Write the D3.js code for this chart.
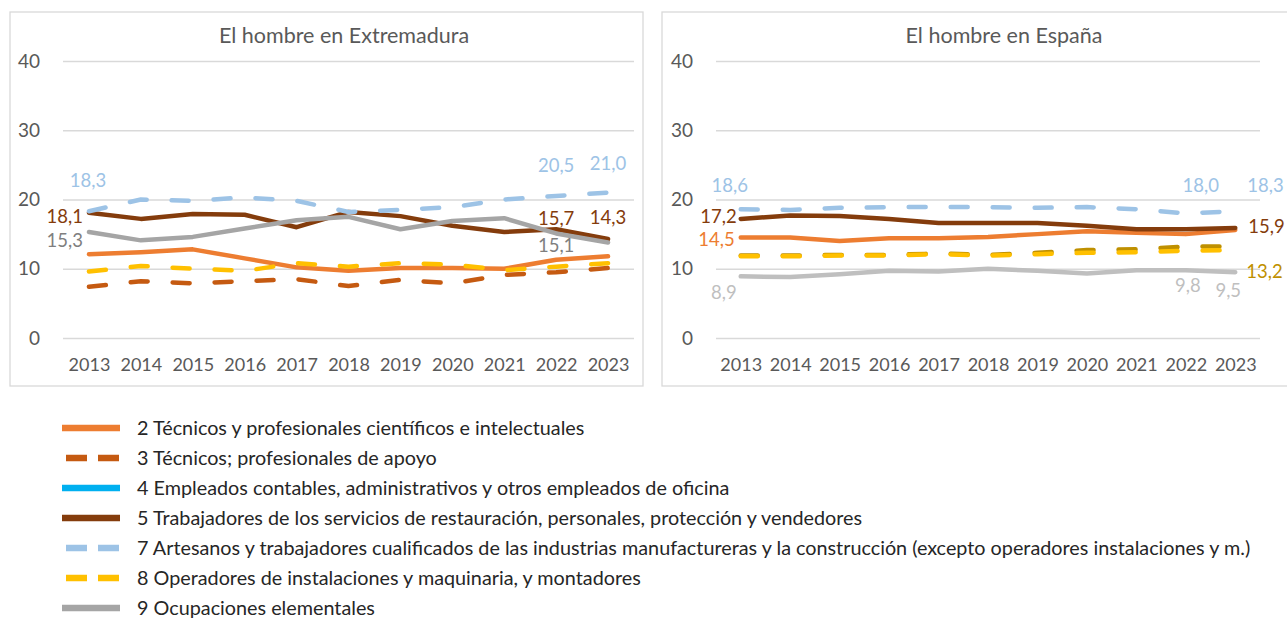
<!DOCTYPE html>
<html><head><meta charset="utf-8">
<script src="https://cdn.jsdelivr.net/npm/d3@7"></script>
<style>
html,body{margin:0;padding:0;background:#fff;}
svg{display:block;font-family:Lato, "Open Sans", sans-serif;}
</style></head>
<body><svg id="c" width="1287" height="619"></svg>
<script>
const years = ["2013","2014","2015","2016","2017","2018","2019","2020","2021","2022","2023"];
const yTicks = [0,10,20,30,40];
const seriesNames = [
  "2 Técnicos y profesionales científicos e intelectuales",
  "3 Técnicos; profesionales de apoyo",
  "4 Empleados contables, administrativos y otros empleados de oficina",
  "5 Trabajadores de los servicios de restauración, personales, protección y vendedores",
  "7 Artesanos y trabajadores cualificados de las industrias manufactureras y la construcción (excepto operadores instalaciones y m.)",
  "8 Operadores de instalaciones y maquinaria, y montadores",
  "9 Ocupaciones elementales"
];
const panelTitles = ["El hombre en Extremadura","El hombre en España"];

// Extremadura
const ext2 = [12.1,12.4,12.8,11.5,10.2,9.7,10.1,10.1,10.0,11.3,11.8];
const ext3 = [7.4,8.2,7.9,8.2,8.5,7.5,8.4,7.9,9.1,9.5,10.1];
const ext4 = [];
const ext5 = [18.1,17.2,17.9,17.8,16.0,18.2,17.6,16.2,15.3,15.7,14.3];
const ext7 = [18.3,20.0,19.8,20.3,19.8,18.2,18.5,18.9,20.0,20.5,21.0];
const ext8 = [9.6,10.4,10.0,9.7,10.8,10.3,10.8,10.6,9.8,10.3,10.8];
const ext9 = [15.3,14.1,14.6,15.8,17.0,17.5,15.7,16.9,17.3,15.1,13.8];
// España
const esp2 = [14.5,14.5,14.0,14.4,14.4,14.6,15.0,15.4,15.2,15.0,15.6];
const esp3 = [11.9,11.9,12.0,12.0,12.2,12.0,12.3,12.7,12.8,13.2,13.2];
const esp4 = [];
const esp5 = [17.2,17.7,17.6,17.2,16.6,16.6,16.6,16.2,15.7,15.7,15.9];
const esp7 = [18.6,18.5,18.8,18.9,18.9,18.9,18.8,18.9,18.6,18.0,18.3];
const esp8 = [11.8,11.8,11.9,11.9,12.1,11.9,12.1,12.3,12.4,12.6,12.7];
const esp9 = [8.9,8.8,9.2,9.7,9.6,10.0,9.7,9.3,9.8,9.8,9.5];

const extSeries = [ext2,ext3,ext4,ext5,ext7,ext8,ext9];
const espSeries = [esp2,esp3,esp4,esp5,esp7,esp8,esp9];

// styles
const baseColors = ["#ED7D31","#C55A11","#00B0F0","#843C0C","#9DC3E6","#FFC000","#A5A5A5"];
const espColors  = ["#ED7D31","#BF9000","#00B0F0","#843C0C","#9DC3E6","#FFC000","#BFBFBF"];
const dashed = [false,true,false,false,true,true,false];

// data labels: [seriesIndex, yearIndex, anchor, dx, dy, color]
const extLabels = [
  [4,0,"middle",-1,-31,"#9DC3E6"],[3,0,"end",-6,4,"#843C0C"],[6,0,"end",-6,8,"#7F7F7F"],
  [4,9,"middle",0,-31,"#9DC3E6"],[4,10,"middle",0,-29,"#9DC3E6"],
  [3,9,"middle",0,-11,"#843C0C"],[3,10,"middle",0,-21,"#843C0C"],[6,9,"middle",0,12,"#7F7F7F"]
];
const espLabels = [
  [4,0,"middle",-11,-24,"#9DC3E6"],[3,0,"end",-4,-2,"#843C0C"],[0,0,"end",-6,2,"#ED7D31"],[6,0,"end",-4,16,"#BFBFBF"],
  [4,9,"middle",15,-28,"#9DC3E6"],[4,10,"start",12,-26,"#9DC3E6"],[3,10,"start",13,-1,"#843C0C"],
  [1,10,"start",11,25,"#BF9000"],[6,9,"middle",2,15,"#BFBFBF"],[6,10,"middle",-7,18,"#BFBFBF"]
];

const svg = d3.select("#c");
const fmt = v => d3.format(".1f")(v).replace(".", ",");

function panel(cfg){
  const g = svg.append("g");
  g.append("rect").attr("x",cfg.bx).attr("y",12).attr("width",cfg.bw).attr("height",374)
    .attr("fill","#fff").attr("stroke","#D9D9D9").attr("stroke-width",1.3);
  const x = d3.scalePoint().domain(years).range([cfg.x0,cfg.x1]).padding(0.5);
  const y = d3.scaleLinear().domain([0,40]).range([338,61]);
  const ya = g.append("g").attr("transform",`translate(${cfg.x0},0)`)
    .call(d3.axisLeft(y).tickValues(yTicks).tickSize(-(cfg.x1-cfg.x0)).tickPadding(23).tickFormat(d3.format("d")));
  ya.select(".domain").remove();
  ya.selectAll(".tick line").attr("stroke","#D9D9D9").attr("stroke-width",1.5);
  ya.selectAll(".tick text").attr("fill","#595959").style("font-size","19px").style("font-family","Lato");
  const xa = g.append("g").attr("transform","translate(0,338)")
    .call(d3.axisBottom(x).tickSize(0).tickPadding(20));
  xa.select(".domain").remove();
  xa.selectAll(".tick text").attr("fill","#595959").style("font-size","18px").style("font-family","Lato");
  g.append("text").attr("x",cfg.tx).attr("y",35).attr("dy","0.35em").attr("text-anchor","middle")
    .attr("fill","#595959").style("font-size","21.5px").text(cfg.title);
  const line = d3.line().x((d,i)=>x(years[i])).y(d=>y(d));
  cfg.series.forEach((s,k)=>{
    if(!s.length) return;
    g.append("path").datum(s).attr("d",line).attr("fill","none")
      .attr("stroke",cfg.colors[k]).attr("stroke-width",4.5)
      .attr("stroke-linecap","round").attr("stroke-linejoin","round")
      .attr("stroke-dasharray",dashed[k]?"17 25":null);
  });
  cfg.labels.forEach(l=>{
    const [si,yi,anchor,dx,dy,col] = l;
    const v = cfg.series[si][yi];
    g.append("text").attr("x",x(years[yi])+dx).attr("y",y(v)+dy).attr("dy","0.35em")
      .attr("text-anchor",anchor).attr("fill",col).style("font-size","18.5px").text(fmt(v));
  });
}

panel({bx:10,bw:633,x0:63,x1:634,tx:344,title:panelTitles[0],series:extSeries,colors:baseColors,labels:extLabels});
panel({bx:662,bw:640,x0:716,x1:1260,tx:1004,title:panelTitles[1],series:espSeries,colors:espColors,labels:espLabels});

// legend
const lg = svg.append("g");
seriesNames.forEach((n,i)=>{
  const yy = 428 + i*30;
  lg.append("line").attr("x1",dashed[i]?66:62).attr("x2",120).attr("y1",yy).attr("y2",yy)
    .attr("stroke",baseColors[i]).attr("stroke-width",6.5)
    .attr("stroke-dasharray",dashed[i]?"21 11":null);
  lg.append("text").attr("x",137).attr("y",yy).attr("dy","0.35em").attr("fill","#262626")
    .style("font-size","19.8px").text(n);
});
</script></body></html>
